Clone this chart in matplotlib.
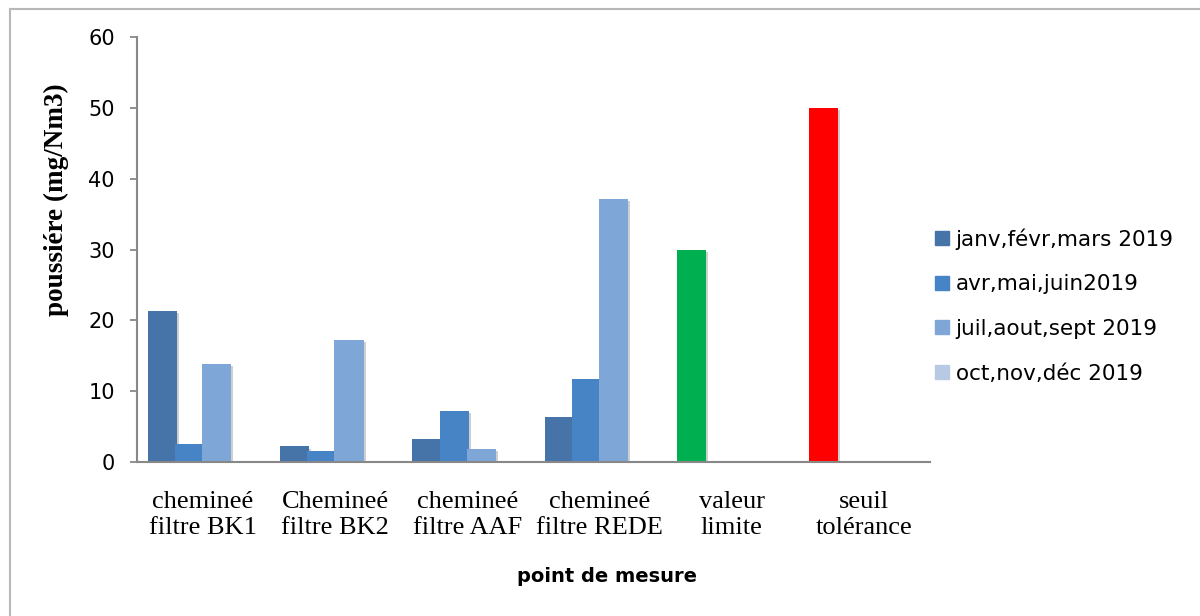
import numpy as np
import matplotlib.pyplot as plt
from matplotlib.lines import Line2D
import matplotlib.patheffects as pe

points = ['chemineé\nfiltre BK1', 'Chemineé\nfiltre BK2', 'chemineé\nfiltre AAF',
          'chemineé\nfiltre REDE', 'valeur\nlimite', 'seuil\ntolérance']
series = ['janv,févr,mars 2019', 'avr,mai,juin2019', 'juil,aout,sept 2019', 'oct,nov,déc 2019']
t1 = [21.3, 2.2, 3.2, 6.3, 30, 50]
t2 = [2.6, 1.6, 7.2, 11.7, np.nan, np.nan]
t3 = [13.8, 17.2, 1.9, 37.2, np.nan, np.nan]
t4 = [np.nan] * 6

colors = ['#4673a8', '#4684c6', '#7ea7d8', '#b8c9e3']
t1_colors = [colors[0]] * 4 + ['#00b050', '#ff0000']

fig = plt.figure(figsize=(12, 6.16), dpi=100)
ax = fig.add_axes([137 / 1200, 1 - 462 / 616, (930 - 137) / 1200, (462 - 37) / 616])

x = np.arange(len(points))
w = 0.22
step = 0.205
shadow = [pe.SimplePatchShadow(offset=(1.5, -1.5), alpha=0.35, shadow_rgbFace='#777777'), pe.Normal()]
for i, vals in enumerate([t1, t2, t3, t4]):
    c = t1_colors if i == 0 else colors[i]
    bars = ax.bar(x - 0.416 + i * step, vals, width=w, align='edge', color=c, zorder=2)
    for b in bars:
        b.set_path_effects(shadow)

ax.set_xlim(-0.5, 5.5)
ax.set_ylim(0, 60)
ax.set_yticks(range(0, 61, 10))
ax.set_xticks(x)
ax.set_xticklabels(points, family='Liberation Serif', fontsize=19, linespacing=1.25,
                   multialignment='center')
ax.tick_params(axis='x', length=0, pad=21)
ax.tick_params(axis='y', length=5, width=1.3, color='#888888', pad=11, labelsize=15)
for s in ['top', 'right']:
    ax.spines[s].set_visible(False)
for s in ['left', 'bottom']:
    ax.spines[s].set_color('#888888')
    ax.spines[s].set_linewidth(1.5)

fig.text(56 / 1200, 1 - 200 / 616, 'poussiére (mg/Nm3)', rotation=90, ha='center', va='center',
         family='Liberation Serif', fontweight='bold', fontsize=19.5)
fig.text(607 / 1200, 1 - 577 / 616, 'point de mesure', ha='center', va='center',
         fontweight='bold', fontsize=14)

handles = [Line2D([], [], marker='s', linestyle='none', markersize=10, color=c) for c in colors]
fig.legend(handles, series, loc='upper left', bbox_to_anchor=(934 / 1200, 1 - 228 / 616),
           frameon=False, fontsize=15.5, labelspacing=1.15, handlelength=0.7,
           handletextpad=0.3, borderpad=0, borderaxespad=0)

# outer chart frame (top and left edges visible)
fig.add_artist(Line2D([10 / 1200, 10 / 1200], [0, 1 - 9 / 616], transform=fig.transFigure,
                      color='#b8b8b8', lw=1.5))
fig.add_artist(Line2D([10 / 1200, 1], [1 - 9 / 616, 1 - 9 / 616], transform=fig.transFigure,
                      color='#b8b8b8', lw=1.5))

fig.savefig('out.png', dpi=100)
